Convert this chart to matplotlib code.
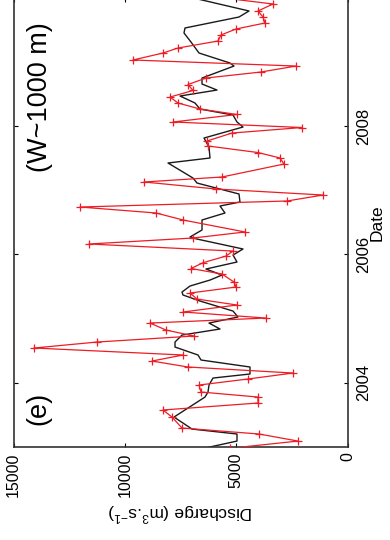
import matplotlib
matplotlib.use("Agg")
import matplotlib.pyplot as plt

plt.rcParams['font.family'] = ['Liberation Sans', 'DejaVu Sans']
plt.rcParams['mathtext.fontset'] = 'custom'
plt.rcParams['mathtext.rm'] = 'Liberation Sans'
plt.rcParams['mathtext.it'] = 'Liberation Sans:italic'

# Altimetry-derived discharge (red, '+')
red_dates = [2002.979, 2003.091, 2003.201, 2003.294, 2003.465, 2003.575, 2003.684, 2003.777,
             2003.855, 2003.964, 2004.058, 2004.151, 2004.245, 2004.338, 2004.432, 2004.541,
             2004.634, 2004.728, 2004.821, 2004.930, 2005.008, 2005.102, 2005.211, 2005.304,
             2005.398, 2005.491, 2005.569, 2005.694, 2005.780, 2005.870, 2005.974, 2006.052,
             2006.162, 2006.255, 2006.349, 2006.536, 2006.645, 2006.738, 2006.832, 2006.925,
             2007.019, 2007.128, 2007.206, 2007.408, 2007.502, 2007.587, 2007.689, 2007.767,
             2007.891, 2007.977, 2008.063, 2008.180, 2008.265, 2008.359, 2008.452, 2008.554,
             2008.647, 2008.748, 2008.842, 2008.935, 2009.029, 2009.138, 2009.216, 2009.325,
             2009.419, 2009.512, 2009.606, 2009.699, 2009.793, 2009.902, 2010.040]
red_q = [5263, 2223, 3975, 7433, 7882, 8286, 4019, 4019,
         6579, 6669, 4469, 2448, 7163, 8780, 7388, 14079,
         11250, 6894, 8151, 8870, 3660, 7388, 4963, 6759,
         7073, 5007, 5097, 5636, 7028, 6489, 5457, 5142,
         11609, 6939, 4603, 7388, 8600, 12013, 2717, 1100,
         5906, 9139, 5636, 2852, 3031, 4019, 6265, 6310,
         5187, 2043, 7837, 4963, 6624, 7612, 7972, 6939,
         7163, 6355, 3885, 2313, 9633, 8286, 7612, 5816,
         5681, 5007, 3705, 3795, 4019, 3346, 6624]

# In-situ discharge (black line)
black_dates = [2002.982, 2003.091, 2003.201, 2003.278, 2003.465, 2003.777, 2003.855, 2003.964,
               2004.073, 2004.136, 2004.245, 2004.354, 2004.432, 2004.556, 2004.634, 2004.743,
               2004.837, 2004.930, 2005.024, 2005.117, 2005.273, 2005.367, 2005.413, 2005.507,
               2005.600, 2005.678, 2005.772, 2005.881, 2005.990, 2006.084, 2006.239, 2006.271,
               2006.380, 2006.536, 2006.645, 2006.754, 2006.816, 2006.941, 2007.112, 2007.190,
               2007.424, 2007.502, 2007.673, 2007.813, 2007.985, 2008.063, 2008.172, 2008.265,
               2008.359, 2008.468, 2008.561, 2008.655, 2008.748, 2008.935, 2008.982, 2009.138,
               2009.309, 2009.450, 2009.528, 2009.699, 2009.793, 2010.026]
black_q = [6400, 4963, 4963, 6984, 7792, 6400, 6265, 6220,
           6040, 4379, 4379, 6579, 6714, 7747, 7747, 7433,
           5726, 6220, 4918, 5142, 6624, 7388, 7433, 7073,
           6175, 5636, 6355, 4963, 5142, 4693, 6759, 7073,
           6534, 6534, 5501, 5726, 4828, 4873, 6759, 6939,
           8061, 6175, 6220, 6445, 4693, 4963, 5142, 6624,
           6849, 7522, 5861, 6534, 6534, 5097, 5277, 6669,
           7028, 7343, 7298, 4873, 4424, 7298]

q_ticks = [0, 5000, 10000, 15000]
q_labels = ['0', '5000', '10000', '15000']
date_ticks = [2004, 2006, 2008]
date_labels = ['2004', '2006', '2008']

fig = plt.figure(figsize=(3.9, 5.4), dpi=100)
ax = fig.add_axes([13.5 / 390, (540 - 446.9) / 540, 334 / 390, 449.2 / 540])

ax.plot(black_q, black_dates, color='#1a1a1a', lw=1.0, zorder=2)
ax.plot(red_q, red_dates, color='#ee1c24', lw=0.9, marker='+', ms=6, mew=0.9, zorder=3)

ax.set_xlim(15000, 0)
ax.set_ylim(2003.0, 2010.0)

ax.set_xticks(q_ticks)
ax.set_xticklabels(q_labels, rotation=90, fontsize=11.5)
ax.yaxis.tick_right()
ax.yaxis.set_label_position('right')
ax.set_yticks(date_ticks)
ax.set_yticklabels(date_labels, rotation=90, fontsize=12, va='center')
ax.tick_params(axis='both', direction='in', length=3, width=0.8,
               top=True, bottom=True, left=True, right=True, pad=4)
ax.tick_params(axis='y', pad=6)

ax.set_xlabel(r'Discharge (m$^3$.s$^{-1}$)', rotation=180, fontsize=12.5, labelpad=3)
ax.set_ylabel('Date', rotation=90, fontsize=12.5, labelpad=-1)

for s in ax.spines.values():
    s.set_linewidth(1.2)
    s.set_color('#333333')

ax.text(13810, 2008.452, '(W~1000 m)', rotation=90, ha='center', va='center', fontsize=19.5)
ax.text(13900, 2003.606, '(e)', rotation=90, ha='center', va='center', fontsize=19.5)

fig.savefig('out.png', dpi=100)
